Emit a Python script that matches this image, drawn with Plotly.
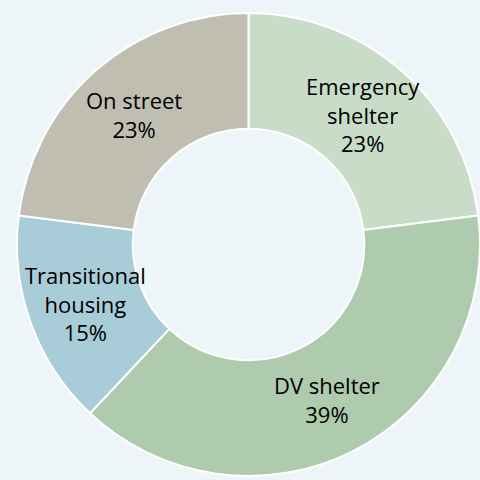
import math
import plotly.graph_objects as go

categories = ["Emergency shelter", "DV shelter", "Transitional housing", "On street"]
label_lines = ["Emergency<br>shelter", "DV shelter", "Transitional<br>housing", "On street"]
values = [23, 39, 15, 23]
colors = ["#c8dcc8", "#aecbae", "#a8ccd8", "#c0beb0"]

W, H = 480, 480
M = dict(l=17, r=0, t=9, b=0)
HOLE = 0.5

fig = go.Figure(go.Pie(
    labels=categories,
    values=values,
    hole=HOLE,
    sort=False,
    direction="clockwise",
    rotation=0,
    marker=dict(colors=colors, line=dict(color="white", width=2)),
    textinfo="none",
    showlegend=False,
    hoverinfo="none",
))

# Labels placed at each slice's mid-angle, in the middle of the ring
pw = W - M["l"] - M["r"]
ph = H - M["t"] - M["b"]
R = min(pw, ph) / 2
r_lab = R * (1 + HOLE) / 2
total = sum(values)
cum = 0
annotations = []
for lab, v in zip(label_lines, values):
    mid = (cum + v / 2) / total * 2 * math.pi
    cum += v
    annotations.append(dict(
        x=0.5 + r_lab * math.sin(mid) / pw,
        y=0.5 + r_lab * math.cos(mid) / ph,
        xref="paper", yref="paper",
        text=f"{lab}<br>{round(v / total * 100)}%",
        showarrow=False,
        xanchor="center", yanchor="middle",
        font=dict(family="Open Sans", size=22, color="black"),
    ))

fig.update_layout(
    width=W, height=H,
    margin=M,
    paper_bgcolor="#eef5f8",
    plot_bgcolor="#eef5f8",
    annotations=annotations,
)

fig.write_html(
    "out.html",
    config={"displayModeBar": False},
    post_script="document.body.style.margin='0';document.body.style.background='#eef5f8';",
)
